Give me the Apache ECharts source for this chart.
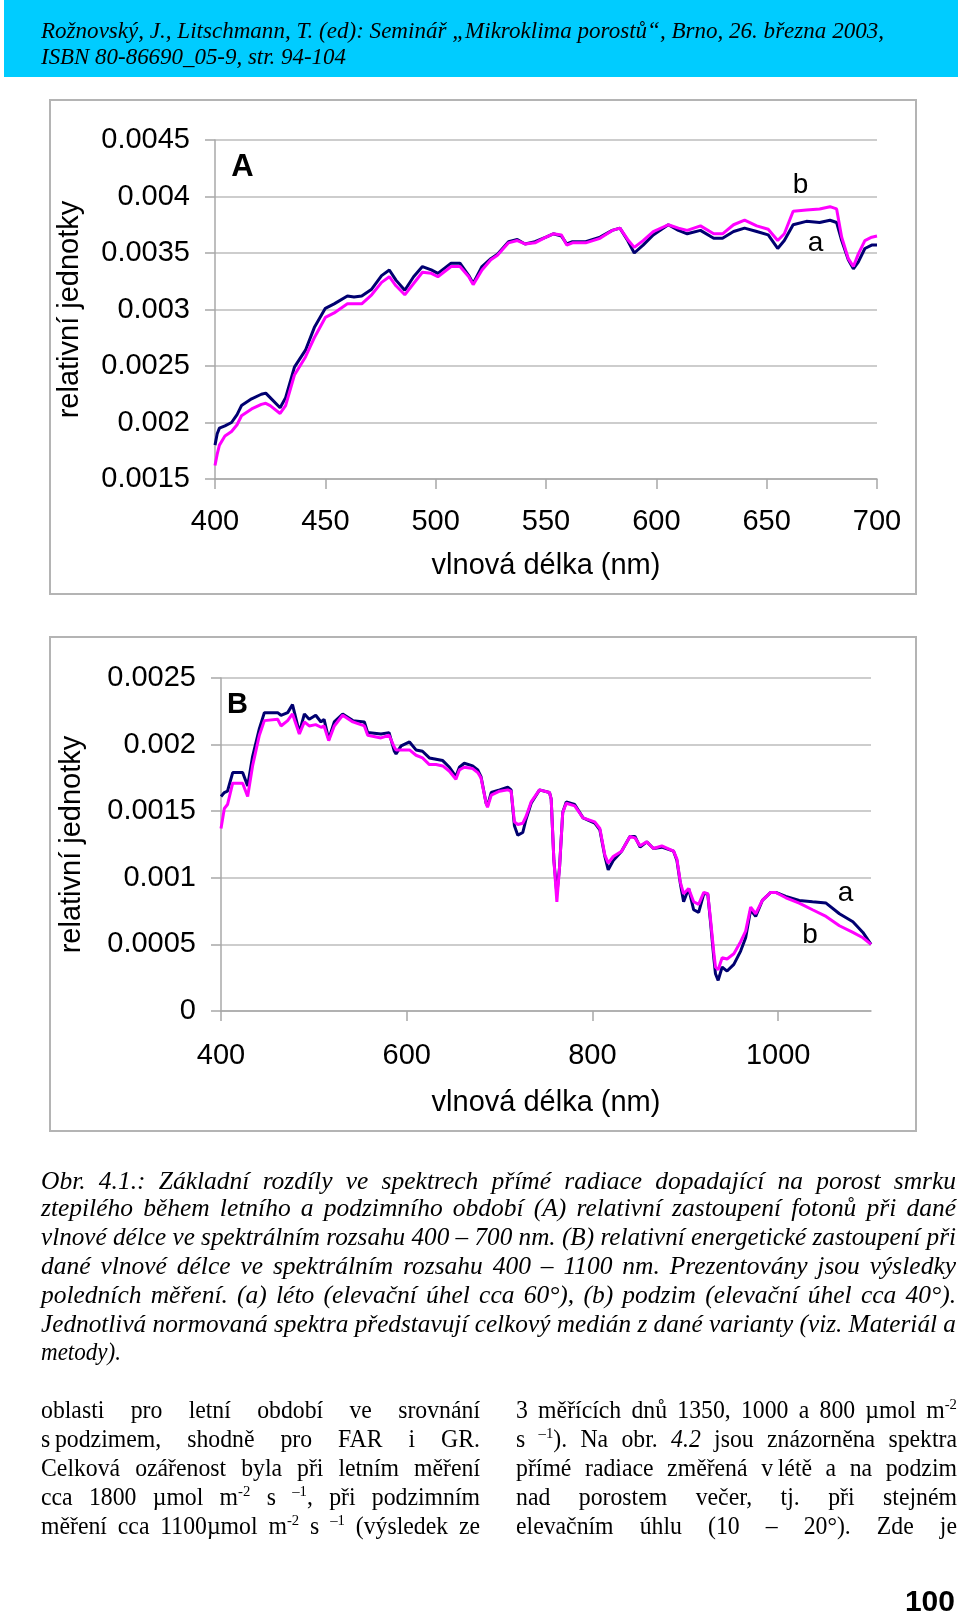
<!DOCTYPE html>
<html>
<head>
<meta charset="utf-8">
<script src="https://cdn.jsdelivr.net/npm/echarts@6/dist/echarts.min.js"></script>
<style>
  html, body { margin:0; padding:0; background:#fff; }
  #page { position:relative; width:960px; height:1619px; overflow:hidden; }
  #chart { position:absolute; left:0; top:0; width:960px; height:1619px; }
  .band { position:absolute; left:4px; top:0; width:954px; height:77px; background:#00CCFF; }
  .box { position:absolute; left:49px; width:864px; height:492px; border:2px solid #b4b4b4; box-sizing:content-box; }
  .ln { position:absolute; white-space:nowrap; line-height:28px; color:#000; }
  .it { font-family:"Liberation Serif","Times New Roman",serif; font-style:italic; }
  .rm { font-family:"Liberation Serif","Times New Roman",serif; }
  sup { font-size:0.62em; line-height:0; vertical-align:0.55em; }
  .pg { position:absolute; font-family:"Liberation Sans",Arial,sans-serif; font-weight:bold; font-size:30px; color:#000; }
</style>
</head>
<body>
<div id="page">
  <div class="band"></div>
  <div class="box" style="top:99px"></div>
  <div class="box" style="top:636px"></div>
  <div id="chart"></div>
  <div id="texts"></div>
  <div class="pg" style="right:5px; top:1584px;">100</div>
</div>
<script>
// ---------- Panel A data (400-700 nm) ----------
const waveA = [400,401,402,404.5,407.5,410,412,416.6,421,423,
  425,429.5,432,436,441,445,450,454,460,463,
  466.5,471,475.5,479,482,486,490,494,498,501,
  507,511,515,517,521,525,528,533,537,540.5,
  545,550,553.3,557,559.4,562,568,574.5,580,583.5,
  587,590,594,598.6,605.4,610,614,620,626,630,
  635,640,645.5,650.7,655,658,662,668,674,678.7,
  681.7,684,687,689.3,691.5,694.5,697.6,700];
const summerA = [.00180,.00190,.00195,.00197,.00200,.00207,.00215,.00221,.00225,.00226,
  .00222,.00213,.00222,.00249,.00264,.00284,.00301,.00305,.00312,.00311,
  .00312,.00318,.00330,.00335,.00326,.00317,.00329,.00338,.00335,.00332,
  .00341,.00341,.00330,.00323,.00338,.00345,.00349,.00360,.00362,.00358,
  .00360,.00364,.00367,.00365,.00358,.00360,.00360,.00364,.00370,.00372,
  .00361,.00350,.00357,.00366,.00375,.00370,.00367,.00370,.00363,.00363,
  .00369,.00372,.00369,.00366,.00354,.00361,.00375,.00378,.00377,.00379,
  .00377,.00361,.00344,.00336,.00342,.00354,.00357,.00357];
const autumnA = [.00162,.00172,.00180,.00188,.00192,.00198,.00206,.00212,.00216,.00217,
  .00215,.00208,.00215,.00242,.00258,.00275,.00293,.00297,.00305,.00305,
  .00305,.00313,.00324,.00329,.00321,.00313,.00323,.00333,.00332,.00329,
  .00338,.00338,.00329,.00322,.00335,.00344,.00348,.00359,.00361,.00358,
  .00359,.00364,.00367,.00366,.00357,.00359,.00359,.00363,.00370,.00372,
  .00362,.00355,.00361,.00369,.00375,.00372,.00370,.00374,.00367,.00367,
  .00375,.00379,.00374,.00371,.00361,.00367,.00387,.00388,.00389,.00391,
  .00389,.00364,.00345,.00338,.00349,.00361,.00364,.00365];

// ---------- Panel B data (400-1100 nm) ----------
const waveB = [400,403.6,407,412.6,423.3,428.7,434,441.3,446.7,461,
  464.6,471.8,477,484.4,489.8,495,502,507.7,511,516,
  522,531,542,554.4,558,572.3,581,586.7,588.5,594,
  603,610,617,624.4,631.6,638.8,646,653,656.7,662,
  671,676.5,680,685.5,687,691,700,708.8,712.4,714,
  716,719.6,725,728.5,734,743,753.8,755.6,758.5,761.7,
  764.6,768,771.8,780.9,789.9,802.5,808,813.4,817,822.4,
  831.4,840.4,845.8,851.3,858.5,865.7,874.7,887.4,891,894.6,
  898.2,903.6,909,914.4,919.9,924.2,927,930.7,932.5,935.4,
  939.7,945,952.3,959.6,965,970.4,975.8,983,992,997.5,
  1008.3,1022.7,1037,1051.6,1066,1080.5,1091.3,1100];
const summerB = [.00161,.00164,.00165,.00179,.00179,.00169,.00191,.00212,.00224,.00224,
  .00222,.00224,.00230,.00209,.00223,.00219,.00222,.00217,.00219,.00204,
  .00217,.00223,.00218,.00217,.00209,.00208,.00209,.00195,.00193,.00199,
  .00202,.00196,.00195,.00190,.00189,.00188,.00183,.00176,.00183,.00186,
  .00184,.00181,.00176,.00156,.00154,.00164,.00166,.00168,.00166,.00154,
  .00139,.00132,.00134,.00144,.00156,.00166,.00164,.00159,.00113,.00088,
  .00108,.00149,.00157,.00155,.00145,.00141,.00136,.00116,.00106,.00113,
  .00120,.00131,.00131,.00123,.00127,.00122,.00123,.00120,.00113,.00096,
  .00082,.00092,.00076,.00074,.00088,.00088,.00068,.00040,.00028,.00023,
  .00033,.00030,.00035,.00045,.00055,.00076,.00071,.00083,.00089,.00089,
  .00086,.00083,.00082,.00081,.00073,.00067,.00059,.00050];
const autumnB = [.00137,.00152,.00155,.00171,.00171,.00161,.00184,.00207,.00218,.00219,
  .00214,.00218,.00223,.00208,.00217,.00214,.00215,.00213,.00214,.00203,
  .00214,.00222,.00217,.00214,.00207,.00205,.00207,.00198,.00196,.00196,
  .00196,.00192,.00190,.00185,.00185,.00184,.00180,.00174,.00181,.00183,
  .00182,.00179,.00175,.00156,.00153,.00162,.00165,.00166,.00165,.00155,
  .00142,.00140,.00141,.00146,.00157,.00166,.00164,.00159,.00113,.00082,
  .00108,.00149,.00156,.00154,.00145,.00142,.00137,.00117,.00111,.00116,
  .00120,.00131,.00130,.00124,.00127,.00122,.00124,.00120,.00114,.00097,
  .00088,.00092,.00082,.00080,.00089,.00088,.00070,.00044,.00033,.00031,
  .00040,.00039,.00043,.00052,.00060,.00078,.00073,.00083,.00089,.00089,
  .00085,.00081,.00076,.00071,.00064,.00059,.00055,.00050];

// ---------- Axis texts ----------
const xTitle = 'vlnová délka (nm)';
const yTitle = 'relativní jednotky';
const panelLabels = ['A', 'B'];
const seriesLabels = ['a', 'b'];

const zip = (xs, ys) => xs.map((x, i) => [x, ys[i]]);
const FONT = '"Liberation Sans", Arial, sans-serif';
const AX = '#a8a8a8';
const fmtY = v => String(+(+v).toFixed(4));
const fmtX = v => String(Math.round(v));

function xAxisCfg(gi, min, max, interval, margin, nameGap, hideMax) {
  return {
    gridIndex: gi, type: 'value', min, max, interval,
    axisLine: { show: true, lineStyle: { color: AX, width: 1.5 } },
    axisTick: { show: true, length: 10, lineStyle: { color: AX, width: 1.5 } },
    axisLabel: { fontSize: 29, fontFamily: FONT, color: '#000', margin, showMaxLabel: !hideMax, formatter: fmtX },
    splitLine: { show: false },
    name: xTitle, nameLocation: 'middle', nameGap,
    nameTextStyle: { fontSize: 29, fontFamily: FONT, color: '#000' }
  };
}
function yAxisCfg(gi, min, max, nameGap) {
  return {
    gridIndex: gi, type: 'value', min, max, interval: 0.0005,
    axisLine: { show: true, lineStyle: { color: AX, width: 1.5 } },
    axisTick: { show: true, length: 10, lineStyle: { color: AX, width: 1.5 } },
    axisLabel: { fontSize: 29, fontFamily: FONT, color: '#000', margin: 25, formatter: fmtY },
    splitLine: { show: true, lineStyle: { color: '#bcbcbc', width: 1.5 } },
    name: yTitle, nameLocation: 'middle', nameGap,
    nameTextStyle: { fontSize: 29, fontFamily: FONT, color: '#000' }
  };
}
function lineSeries(gi, data, color, z) {
  return { type: 'line', xAxisIndex: gi, yAxisIndex: gi, data, showSymbol: false, symbol: 'none',
    lineStyle: { color, width: 3 }, z, silent: true };
}
function txt(x, y, t, size, bold) {
  return { type: 'text', x, y, z: 100,
    style: { text: t, font: (bold ? 'bold ' : '') + size + 'px ' + FONT, fill: '#000', align: 'center', verticalAlign: 'middle' } };
}

const chart = echarts.init(document.getElementById('chart'), null, { renderer: 'canvas' });
chart.setOption({
  animation: false,
  backgroundColor: 'transparent',
  grid: [
    { left: 215, top: 140, width: 662, height: 339 },
    { left: 221, top: 678, width: 650, height: 333 }
  ],
  xAxis: [ xAxisCfg(0, 400, 700, 50, 28, 72, false), xAxisCfg(1, 400, 1100, 200, 30, 77, true) ],
  yAxis: [ yAxisCfg(0, 0.0015, 0.0045, 131), yAxisCfg(1, 0, 0.0025, 135) ],
  series: [
    lineSeries(0, zip(waveA, summerA), '#000070', 2),
    lineSeries(0, zip(waveA, autumnA), '#ff00ff', 3),
    lineSeries(1, zip(waveB, summerB), '#000070', 2),
    lineSeries(1, zip(waveB, autumnB), '#ff00ff', 3)
  ],
  graphic: [
    txt(242.5, 167, panelLabels[0], 31, true),
    txt(237.5, 705, panelLabels[1], 29, true),
    txt(800.5, 185.5, seriesLabels[1], 28, false),
    txt(815.5, 243.5, seriesLabels[0], 28, false),
    txt(845.5, 893.5, seriesLabels[0], 28, false),
    txt(810, 935.5, seriesLabels[1], 28, false)
  ]
});

// ---------- Page texts ----------
const header = [
  'Rožnovský, J., Litschmann, T. (ed): Seminář „Mikroklima porostů“, Brno, 26. března 2003,',
  'ISBN 80-86690_05-9, str. 94-104'
];
const caption = [
  'Obr. 4.1.: Základní rozdíly ve spektrech přímé radiace dopadající na porost smrku',
  'ztepilého během letního a podzimního období (A) relativní zastoupení fotonů při dané',
  'vlnové délce ve spektrálním rozsahu 400 – 700 nm. (B) relativní energetické zastoupení při',
  'dané vlnové délce ve spektrálním rozsahu 400 – 1100 nm. Prezentovány jsou výsledky',
  'poledních měření. (a) léto (elevační úhel cca 60°), (b) podzim (elevační úhel cca 40°).',
  'Jednotlivá normovaná spektra představují celkový medián z dané varianty (viz. Materiál a',
  'metody).'
];
const colLeft = [
  'oblasti pro letní období ve srovnání',
  's\u2009podzimem, shodně pro FAR i GR.',
  'Celková ozářenost byla při letním měření',
  'cca 1800 µmol m<sup>-2</sup> s <sup>–1</sup>, při podzimním',
  'měření cca 1100µmol m<sup>-2</sup> s <sup>–1</sup> (výsledek ze'
];
const colRight = [
  '3 měřících dnů 1350, 1000 a 800 µmol m<sup>-2</sup>',
  's <sup>–1</sup>). Na obr. <i>4.2</i> jsou znázorněna spektra',
  'přímé radiace změřená v\u2009létě a na podzim',
  'nad porostem večer, tj. při stejném',
  'elevačním úhlu (10 – 20°). Zde je'
];

const host = document.getElementById('texts');
// s: horizontal condensing factor; mode: 'fit' (scale to width), 'justify', 'none'
function addLine(html, cls, size, left, cy, width, mode, s) {
  const el = document.createElement('span');
  el.className = 'ln ' + cls;
  el.style.fontSize = size + 'px';
  el.style.left = left + 'px';
  el.style.top = (cy - 15) + 'px';
  el.innerHTML = html;
  host.appendChild(el);
  const w = el.getBoundingClientRect().width;
  let scale = s;
  if (mode === 'fit' || w * s > width) scale = width / w;
  if (mode === 'justify' && w * scale < width - 0.5) {
    const n = (el.textContent.match(/ /g) || []).length;
    if (n) el.style.wordSpacing = ((width - w * scale) / n / scale) + 'px';
  }
  el.style.transformOrigin = '0 50%';
  el.style.transform = 'scaleX(' + scale + ')';
}
addLine(header[0], 'it', 24, 41, 31, 843, 'fit', 1);
addLine(header[1], 'it', 24, 41, 57, 305, 'fit', 1);
const capY = [1182, 1209, 1238, 1267, 1296, 1325, 1353];
caption.forEach((t, i) => {
  if (i === caption.length - 1) addLine(t, 'it', 26, 41, capY[i], 80, 'none', 0.98);
  else addLine(t, 'it', 26, 41, capY[i], 915, 'justify', 0.98);
});
const colY = [1411, 1440, 1469, 1498, 1527];
colLeft.forEach((t, i) => addLine(t, 'rm', 25, 41, colY[i], 439, 'justify', 0.95));
colRight.forEach((t, i) => addLine(t, 'rm', 25, 516, colY[i], 441, 'justify', 0.95));
</script>
</body>
</html>
